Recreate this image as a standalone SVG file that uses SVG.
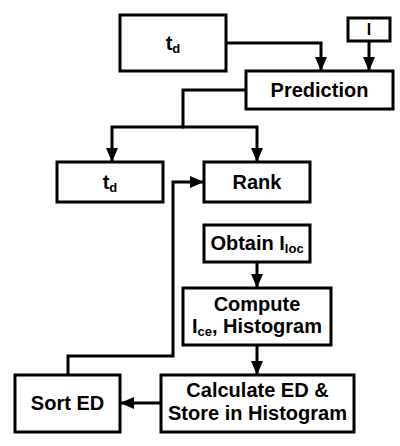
<svg xmlns="http://www.w3.org/2000/svg" width="400" height="446" viewBox="0 0 400 446">
<style>
.box{fill:#fff;stroke:#000;stroke-width:3}
.lbl{font-family:"Liberation Sans",Arial,sans-serif;font-weight:bold;font-size:20px;fill:#000;text-anchor:middle}
.sub{font-size:13px}
.con{fill:none;stroke:#000;stroke-width:3;marker-end:url(#ah)}
.plain{fill:none;stroke:#000;stroke-width:3}
</style>
<defs>
<marker id="ah" viewBox="0 0 14 12" refX="14" refY="6" markerWidth="14" markerHeight="12" markerUnits="userSpaceOnUse" orient="auto">
<path d="M0,0 L14,6 L0,12 Z" fill="#000"/>
</marker>
</defs>
<rect width="400" height="446" fill="#fff"/>
<g id="connectors">
<path class="con" d="M226 43 H321 V71"/>
<path class="con" d="M369 41 V71"/>
<path class="plain" d="M246 90 H183 V127"/>
<path class="con" d="M184.5 127 H112 V162"/>
<path class="con" d="M181.5 127 H257 V162"/>
<path class="con" d="M68 375 V356 H173 V182 H204"/>
<path class="con" d="M257 262 V288"/>
<path class="con" d="M257 345 V375"/>
<path class="con" d="M161 403 H120"/>
</g>
<g id="td-top">
<rect class="box" x="120" y="15" width="106" height="56"/>
<text class="lbl" x="173" y="50">t<tspan class="sub" dy="3">d</tspan></text>
</g>
<g id="input-I">
<rect class="box" x="348" y="18" width="42" height="23"/>
<text class="lbl" x="369" y="35" style="font-size:16px">I</text>
</g>
<g id="prediction">
<rect class="box" x="246" y="71" width="147" height="38"/>
<text class="lbl" x="319.5" y="97">Prediction</text>
</g>
<g id="td-out">
<rect class="box" x="57" y="162" width="106" height="40"/>
<text class="lbl" x="110" y="189">t<tspan class="sub" dy="3">d</tspan></text>
</g>
<g id="rank">
<rect class="box" x="204" y="162" width="106" height="40"/>
<text class="lbl" x="257" y="189">Rank</text>
</g>
<g id="obtain">
<rect class="box" x="204" y="225" width="106" height="37"/>
<text class="lbl" x="257" y="250">Obtain I<tspan class="sub" dy="3">loc</tspan></text>
</g>
<g id="compute">
<rect class="box" x="183" y="288" width="148" height="57"/>
<text class="lbl" x="257" y="311">Compute</text>
<text class="lbl" x="257" y="333">I<tspan class="sub" dy="3">ce</tspan><tspan dy="-3">, Histogram</tspan></text>
</g>
<g id="calculate">
<rect class="box" x="161" y="375" width="193" height="57"/>
<text class="lbl" x="257.5" y="397">Calculate ED &amp;</text>
<text class="lbl" x="257.5" y="420">Store in Histogram</text>
</g>
<g id="sort">
<rect class="box" x="15" y="375" width="105" height="57"/>
<text class="lbl" x="67.5" y="410">Sort ED</text>
</g>
</svg>
